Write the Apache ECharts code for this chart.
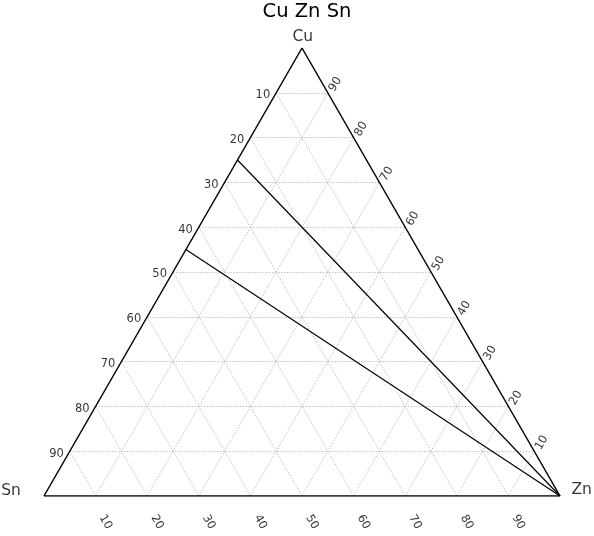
<!DOCTYPE html>
<html><head><meta charset="utf-8">
<script src="https://cdn.jsdelivr.net/npm/echarts@6/dist/echarts.min.js"></script>
<style>html,body{margin:0;padding:0;background:#fff}#c{width:594px;height:536px}</style>
</head><body><div id="c"></div>
<script>
// ---- data ----
const titleText = 'Cu Zn Sn';
const vertexNames = ['Cu', 'Zn', 'Sn'];
const tickValues = [10, 20, 30, 40, 50, 60, 70, 80, 90];
const gridLevels = [10, 20, 30, 40, 50, 60, 70, 80, 90];
// lines given as [Cu, Zn, Sn] percent: start on Cu–Sn edge, end at Zn corner
const lineStarts = [[75, 0, 25], [55, 0, 45]];
const lineEnds = [[0, 100, 0], [0, 100, 0]];

// ---- ternary -> cartesian ----
const H = Math.sqrt(3) / 2;
function tc(cu, zn, sn) { const s = cu + zn + sn; return [(zn + cu * 0.5) / s, (cu / s) * H]; }

const FONT = 'DejaVu Sans';

const gridLines = [];
gridLevels.forEach(v => {
  gridLines.push({ coords: [tc(v, 0, 100 - v), tc(v, 100 - v, 0)] });       // const Cu
  gridLines.push({ coords: [tc(0, v, 100 - v), tc(100 - v, v, 0)] });       // const Zn
  gridLines.push({ coords: [tc(100 - v, 0, v), tc(0, 100 - v, v)] });       // const Sn
});
const border = [
  { coords: [tc(100, 0, 0), tc(0, 100, 0)] },
  { coords: [tc(0, 100, 0), tc(0, 0, 100)] },
  { coords: [tc(0, 0, 100), tc(100, 0, 0)] }
];
const dataLines = lineStarts.map((s, i) => ({ coords: [tc(...s), tc(...lineEnds[i])] }));

const leftLabels = tickValues.map(v => [...tc(100 - v, 0, v), String(v)]);
const rightLabels = tickValues.map(v => [...tc(v, 100 - v, 0), String(v)]);
const bottomLabels = tickValues.map(v => [...tc(0, v, 100 - v), String(v)]);

function labelSeries(data, pos, rot, align) {
  return {
    type: 'scatter', symbolSize: 0, data: data, silent: true,
    label: {
      show: true, formatter: p => p.value[2], position: pos, rotate: rot,
      align: align, verticalAlign: 'middle', color: '#000', fontSize: 11.5, fontFamily: FONT
    }
  };
}
function vertexSeries(name, pt, pos) {
  return {
    type: 'scatter', symbolSize: 0, data: [[...pt, name]], silent: true,
    label: { show: true, formatter: p => p.value[2], position: pos, align: 'center',
      verticalAlign: 'middle', color: '#000', fontSize: 15.5, fontFamily: FONT }
  };
}

const chart = echarts.init(document.getElementById('c'), null, { renderer: 'canvas' });
chart.setOption({
  animation: false,
  backgroundColor: '#fff',
  title: {
    text: titleText, left: 302, top: -3, textAlign: 'center',
    textStyle: { fontSize: 19.5, fontWeight: 'normal', color: '#000', fontFamily: FONT }
  },
  grid: { left: 44, top: 48, width: 516, height: 448 },
  xAxis: { type: 'value', min: 0, max: 1, show: false },
  yAxis: { type: 'value', min: 0, max: H, show: false },
  series: [
    { type: 'lines', coordinateSystem: 'cartesian2d', data: gridLines, silent: true,
      lineStyle: { color: '#b0b0b0', width: 0.8, type: [1.5, 1.5], opacity: 1 } },
    { type: 'lines', coordinateSystem: 'cartesian2d', data: dataLines, silent: true,
      lineStyle: { color: '#000', width: 1.2, opacity: 1 } },
    { type: 'lines', coordinateSystem: 'cartesian2d', data: border, silent: true,
      lineStyle: { color: '#000', width: 1.5, opacity: 1 } },
    labelSeries(leftLabels, [-6, 2.5], 0, 'right'),
    labelSeries(rightLabels, [7.5, -8.5], 60, 'center'),
    labelSeries(bottomLabels, [10, 26], -60, 'center'),
    vertexSeries(vertexNames[0], tc(100, 0, 0), [0.7, -11]),
    vertexSeries(vertexNames[1], tc(0, 100, 0), [21.7, -6]),
    vertexSeries(vertexNames[2], tc(0, 0, 100), [-33, -5])
  ]
});
</script></body></html>
